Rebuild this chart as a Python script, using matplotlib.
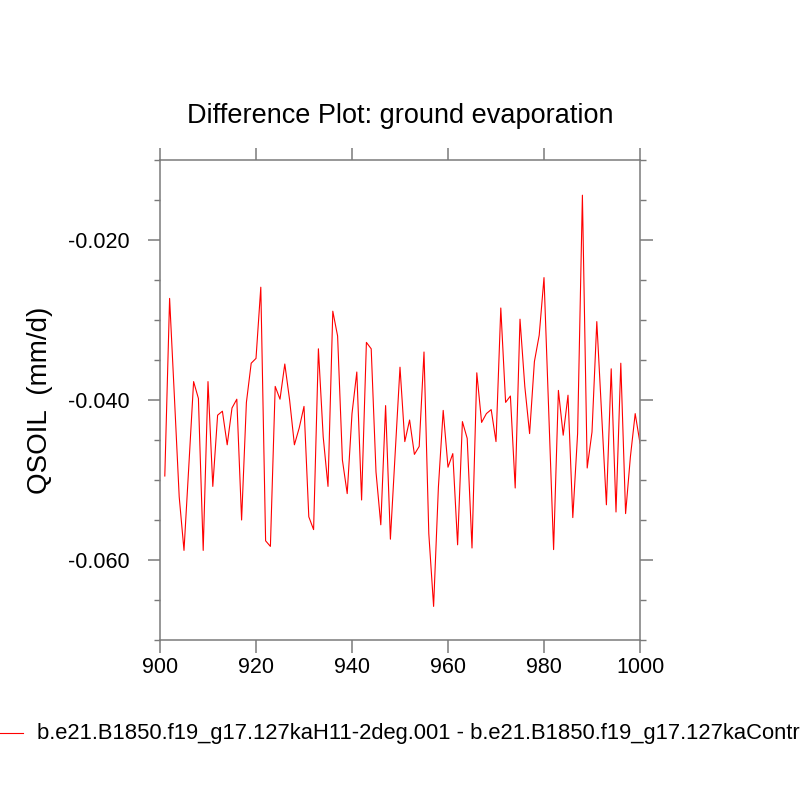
"""Difference plot of ground evaporation (QSOIL) between two CESM runs."""

import matplotlib
matplotlib.use("Agg")
import matplotlib.pyplot as plt
from matplotlib.lines import Line2D
from matplotlib.ticker import MultipleLocator

# --------------------------------------------------------------------------- #
# Data
# --------------------------------------------------------------------------- #

years = list(range(901, 1001))

qsoil_diff = [
    -0.0495, -0.0273, -0.0396, -0.0521, -0.0588, -0.0483, -0.0377, -0.0398, -0.0588, -0.0377,  # 901-910
    -0.0508, -0.0419, -0.0414, -0.0456, -0.0410, -0.0399, -0.0550, -0.0403, -0.0354, -0.0348,  # 911-920
    -0.0259, -0.0576, -0.0583, -0.0383, -0.0399, -0.0355, -0.0400, -0.0456, -0.0435, -0.0408,  # 921-930
    -0.0546, -0.0562, -0.0336, -0.0446, -0.0508, -0.0289, -0.0320, -0.0475, -0.0517, -0.0417,  # 931-940
    -0.0365, -0.0525, -0.0328, -0.0336, -0.0490, -0.0556, -0.0407, -0.0574, -0.0466, -0.0359,  # 941-950
    -0.0452, -0.0425, -0.0468, -0.0458, -0.0340, -0.0567, -0.0658, -0.0509, -0.0413, -0.0484,  # 951-960
    -0.0467, -0.0581, -0.0427, -0.0448, -0.0585, -0.0366, -0.0428, -0.0417, -0.0412, -0.0452,  # 961-970
    -0.0285, -0.0403, -0.0395, -0.0510, -0.0299, -0.0383, -0.0442, -0.0352, -0.0319, -0.0247,  # 971-980
    -0.0417, -0.0587, -0.0388, -0.0444, -0.0394, -0.0547, -0.0442, -0.0144, -0.0485, -0.0440,  # 981-990
    -0.0302, -0.0417, -0.0531, -0.0361, -0.0540, -0.0354, -0.0542, -0.0471, -0.0417, -0.0454,  # 991-1000
]

case_a = "b.e21.B1850.f19_g17.127kaH11-2deg.001"
case_b = "b.e21.B1850.f19_g17.127kaControl.001"

title = "Difference Plot: ground evaporation"
ylabel = "QSOIL  (mm/d)"

xticks = [900, 920, 940, 960, 980, 1000]
yticks = [-0.060, -0.040, -0.020]

# --------------------------------------------------------------------------- #
# Plot
# --------------------------------------------------------------------------- #

plt.rcParams["font.family"] = ["Liberation Sans", "DejaVu Sans"]
axis_grey = "#7a7a7a"

fig = plt.figure(figsize=(8, 8), dpi=100)
ax = fig.add_axes([0.2, 0.2, 0.6, 0.6])

ax.plot(years, qsoil_diff, color="red", linewidth=0.8)

ax.set_xlim(900, 1000)
ax.set_ylim(-0.070, -0.010)
ax.set_xticks(xticks)
ax.set_xticklabels([str(t) for t in xticks])
ax.set_yticks(yticks)
ax.set_yticklabels([f"{t:.3f}" for t in yticks])
ax.yaxis.set_minor_locator(MultipleLocator(0.005))

for side in ax.spines.values():
    side.set_color(axis_grey)
    side.set_linewidth(1.1)

ax.tick_params(which="major", direction="out", length=9, width=1.1, color=axis_grey,
               labelsize=15.5, top=True, right=True)
ax.tick_params(which="minor", direction="out", length=4.5, width=1.0, color=axis_grey,
               left=True, right=True)
ax.tick_params(axis="y", which="major", pad=13)
ax.tick_params(axis="x", which="major", pad=3)

fig.text(0.5, 0.855, title, ha="center", va="center", fontsize=19.5)
fig.text(0.05, 0.5, ylabel, ha="center", va="center", rotation=90, fontsize=20)

# legend below the plot, runs off the right edge as in the original
fig.add_artist(Line2D([0.0, 0.029], [0.0835, 0.0835], color="red", linewidth=0.8,
                      transform=fig.transFigure))
fig.text(0.046, 0.0835, f"{case_a} - {case_b}", ha="left", va="center", fontsize=15.8)

fig.savefig("out.png", dpi=100)
